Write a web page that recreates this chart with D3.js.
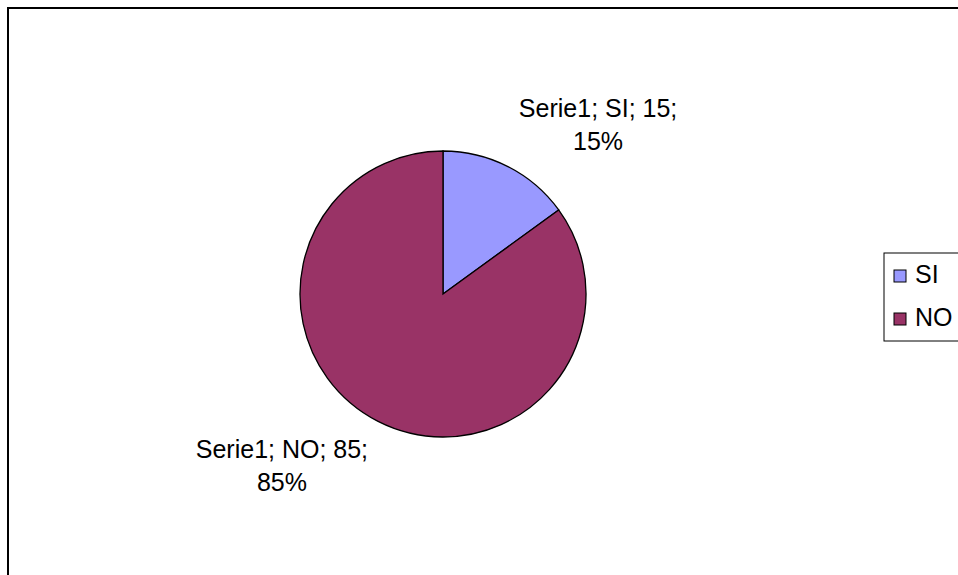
<!DOCTYPE html>
<html>
<head>
<meta charset="utf-8">
<script src="https://cdn.jsdelivr.net/npm/d3@7"></script>
<style>
  body { margin: 0; background: #fff; }
  svg { display: block; font-family: "Liberation Sans", Arial, sans-serif; }
</style>
</head>
<body>
<div id="chart"></div>
<script>
// Chart data
const categories = ["SI", "NO"];
const values = [15, 85];
const seriesName = "Serie1";
const colors = ["#9999FF", "#993366"];

const width = 958, height = 575;
const cx = 443, cy = 294, radius = 143;
const fontSize = 25;

let svg = d3.select("#chart")
    .append("svg")
    .attr("width", width)
    .attr("height", height);

// chart area border (right and bottom run off the page)
svg.append("rect")
    .attr("x", 8)
    .attr("y", 8)
    .attr("width", 1000)
    .attr("height", 700)
    .attr("fill", "#fff")
    .attr("stroke", "#000")
    .attr("stroke-width", 2);

let data = categories.map((c, i) => ({ name: c, value: values[i], color: colors[i] }));
let total = d3.sum(values);

let pie = d3.pie().sort(null).value(d => d.value);
let arc = d3.arc().innerRadius(0).outerRadius(radius);

let g = svg.append("g").attr("transform", "translate(" + cx + "," + cy + ")");

let arcs = pie(data);

g.selectAll("path")
    .data(arcs)
    .enter().append("path")
    .attr("d", arc)
    .attr("fill", d => d.data.color)
    .attr("stroke", "#000")
    .attr("stroke-width", 1.3);

// data labels: placed outside, starting from the slice bisector
let labelArc = d3.arc().innerRadius(radius * 1.48).outerRadius(radius * 1.48);
let labelOffsets = { SI: [59, 12], NO: [-65, -25] };

arcs.forEach(d => {
    let p = labelArc.centroid(d);
    let off = labelOffsets[d.data.name];
    let x = p[0] + off[0], y = p[1] + off[1];
    let pct = Math.round(d.data.value / total * 100) + "%";
    let t = g.append("text")
        .attr("text-anchor", "middle")
        .attr("font-size", fontSize)
        .attr("fill", "#000");
    t.append("tspan").attr("x", x).attr("y", y).text(seriesName + "; " + d.data.name + "; " + d.data.value + ";");
    t.append("tspan").attr("x", x).attr("y", y + 33).text(pct);
});

// legend
let legend = svg.append("g").attr("transform", "translate(884,253)");
legend.append("rect")
    .attr("x", 0).attr("y", 0)
    .attr("width", 120).attr("height", 88)
    .attr("fill", "#fff")
    .attr("stroke", "#000")
    .attr("stroke-width", 1);

let item = legend.selectAll(".item")
    .data(data)
    .enter().append("g")
    .attr("class", "item")
    .attr("transform", (d, i) => "translate(0," + (i * 43) + ")");

item.append("rect")
    .attr("x", 10).attr("y", 17)
    .attr("width", 12).attr("height", 12)
    .attr("fill", d => d.color)
    .attr("stroke", "#000")
    .attr("stroke-width", 1);

item.append("text")
    .attr("x", 31).attr("y", 30)
    .attr("font-size", fontSize)
    .text(d => d.name);
</script>
</body>
</html>
